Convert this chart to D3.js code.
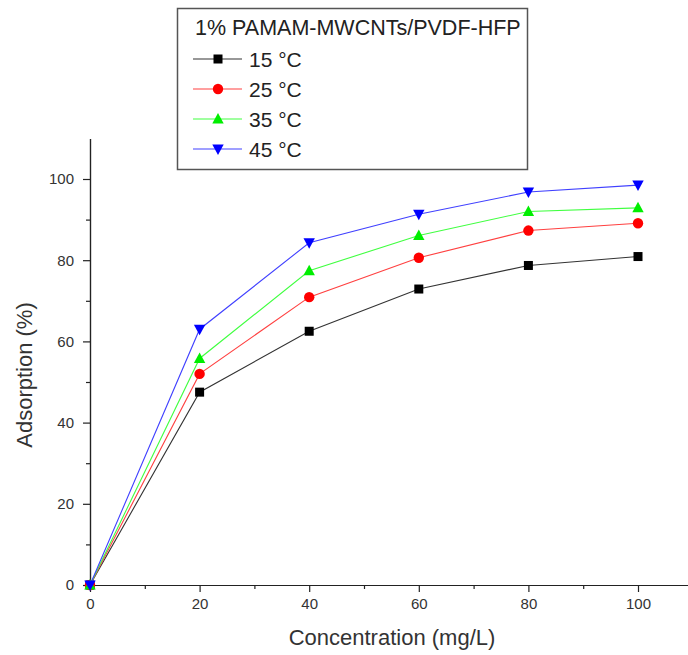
<html>
<head>
<script src="https://d3js.org/d3.v7.min.js"></script>
<style>
  body { margin: 0; background: #fff; }
  text { font-family: "Liberation Sans", Arial, sans-serif; }
</style>
</head>
<body>
<svg width="688" height="655"></svg>
<script>
var concentration = [0, 20, 40, 60, 80, 100];
var series15 = [0, 47.5, 62.5, 72.9, 78.7, 80.9];
var series25 = [0, 52.0, 70.9, 80.6, 87.3, 89.1];
var series35 = [0, 55.8, 77.4, 86.1, 92.0, 92.9];
var series45 = [0, 63.0, 84.3, 91.3, 96.8, 98.5];
var seriesNames = ["15 \u00B0C", "25 \u00B0C", "35 \u00B0C", "45 \u00B0C"];
var legendTitle = "1% PAMAM-MWCNTs/PVDF-HFP";
var xTicks = [0, 20, 40, 60, 80, 100];
var yTicks = [0, 20, 40, 60, 80, 100];

var colors = ["#000000", "#ff0000", "#00ee00", "#0000ff"];
var lineColors = ["#333333", "#ff4040", "#40ff40", "#4040ff"];
var symbols = ["square", "circle", "up", "down"];
var allSeries = [series15, series25, series35, series45];

var svg = d3.select("svg");
var x = d3.scaleLinear().domain([0, 110]).range([90, 692.8]);
var y = d3.scaleLinear().domain([0, 110]).range([585, 138.4]);

// axes
var xAxis = svg.append("g").attr("transform", "translate(0,585)")
  .call(d3.axisBottom(x).tickValues(xTicks).tickSize(7).tickSizeOuter(0));
var xMinor = svg.append("g").attr("transform", "translate(0,585)")
  .call(d3.axisBottom(x).tickValues([10, 30, 50, 70, 90]).tickSize(4).tickFormat("").tickSizeOuter(0));
var yAxis = svg.append("g").attr("transform", "translate(90,0)")
  .call(d3.axisLeft(y).tickValues(yTicks).tickSize(7).tickSizeOuter(0));
var yMinor = svg.append("g").attr("transform", "translate(90,0)")
  .call(d3.axisLeft(y).tickValues([10, 30, 50, 70, 90]).tickSize(4).tickFormat("").tickSizeOuter(0));

svg.selectAll(".domain").attr("stroke", "#222").attr("stroke-width", 1.2);
svg.selectAll(".tick line").attr("stroke", "#222").attr("stroke-width", 1.2);
xAxis.selectAll("text").attr("font-size", 15).attr("fill", "#333").attr("dy", "0.95em");
yAxis.selectAll("text").attr("font-size", 15).attr("fill", "#333").attr("x", -16);

svg.append("text").attr("x", 392).attr("y", 645).attr("text-anchor", "middle")
  .attr("font-size", 22).attr("fill", "#333").text("Concentration (mg/L)");
svg.append("text").attr("transform", "translate(32,375) rotate(-90)").attr("text-anchor", "middle")
  .attr("font-size", 22).attr("fill", "#333").text("Adsorption (%)");

function drawSymbol(g, kind, color) {
  if (kind === "square") {
    g.append("rect").attr("x", -4.5).attr("y", -4.5).attr("width", 9).attr("height", 9).attr("fill", color);
  } else if (kind === "circle") {
    g.append("circle").attr("r", 5.2).attr("fill", color);
  } else if (kind === "up") {
    g.append("path").attr("d", "M0,-6L5.7,4.5L-5.7,4.5Z").attr("fill", color);
  } else {
    g.append("path").attr("d", "M0,6L5.7,-4.5L-5.7,-4.5Z").attr("fill", color);
  }
}

var line = d3.line()
  .x(function(d, i) { return x(concentration[i]); })
  .y(function(d) { return y(d); });

allSeries.forEach(function(s, k) {
  svg.append("path").datum(s)
    .attr("fill", "none")
    .attr("stroke", lineColors[k])
    .attr("stroke-width", 1.1)
    .attr("d", line);
  s.forEach(function(v, i) {
    var g = svg.append("g").attr("transform", "translate(" + x(concentration[i]) + "," + y(v) + ")");
    drawSymbol(g, symbols[k], colors[k]);
  });
});

// legend
var lg = svg.append("g");
lg.append("rect").attr("x", 177.5).attr("y", 8.5).attr("width", 350).attr("height", 161)
  .attr("fill", "#fff").attr("stroke", "#555").attr("stroke-width", 1.5);
lg.append("text").attr("x", 195).attr("y", 35).attr("font-size", 21.5).attr("fill", "#222").text(legendTitle);
seriesNames.forEach(function(name, k) {
  var cy = 59 + k * 30;
  lg.append("line").attr("x1", 193).attr("x2", 242).attr("y1", cy).attr("y2", cy)
    .attr("stroke", lineColors[k]).attr("stroke-width", 1.2);
  var g = lg.append("g").attr("transform", "translate(218," + cy + ")");
  drawSymbol(g, symbols[k], colors[k]);
  lg.append("text").attr("x", 249).attr("y", cy + 7.5).attr("font-size", 21).attr("fill", "#222").text(name);
});
</script>
</body>
</html>
